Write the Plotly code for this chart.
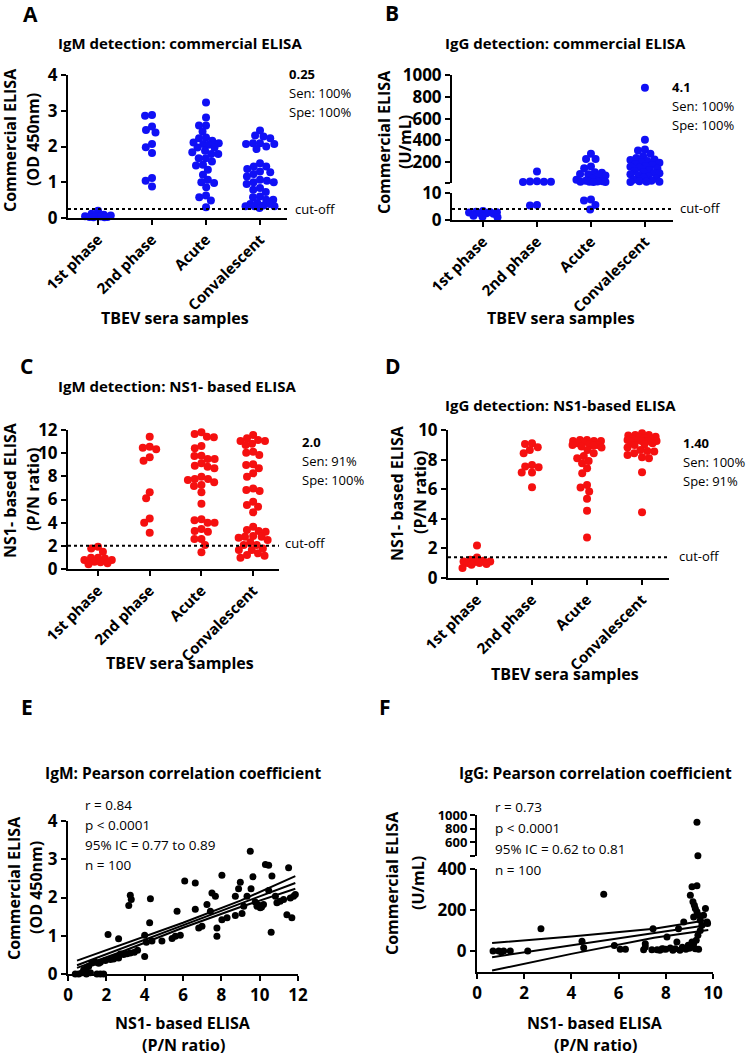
import math
import plotly.graph_objects as go

W, H = 750, 1057
FONT = "Open Sans"

categories = ["1st phase", "2nd phase", "Acute", "Convalescent"]

# ---- Panel A: IgM commercial ELISA (OD 450nm)
igm_com_first = [0.2, 0.12, 0.09, 0.07, 0.05, 0.05, 0.04, 0.03, 0.03, 0.02, 0.02]
igm_com_second = [2.88, 2.86, 2.56, 2.46, 2.39, 2.07, 1.98, 1.82, 1.12, 1.04, 0.88]
igm_com_acute = [3.23, 2.81, 2.59, 2.59, 2.42, 2.25, 2.23, 2.16, 2.11, 2.09, 2.07, 2.05, 1.97,
                 1.97, 1.88, 1.84, 1.79, 1.79, 1.67, 1.67, 1.58, 1.49, 1.47, 1.35, 1.21, 1.07,
                 1.0, 0.98, 0.86, 0.63, 0.58, 0.49, 0.30]
igm_com_conv = [2.45, 2.31, 2.28, 2.23, 2.09, 2.09, 2.07, 2.07, 2.0, 1.93, 1.53, 1.44, 1.44,
                1.37, 1.30, 1.28, 1.23, 1.16, 1.07, 1.04, 1.0, 1.0, 0.95, 0.84, 0.79, 0.73,
                0.60, 0.58, 0.51, 0.51, 0.42, 0.39, 0.39, 0.35, 0.33, 0.33, 0.33, 0.28]
igm_com_cutoff = 0.25

# ---- Panel B: IgG commercial ELISA (U/mL)
igg_com_first = [3.3, 3.1, 3.0, 2.9, 2.8, 2.6, 2.5, 2.3, 1.6, 1.2, 1.0]
igg_com_second = [115, 26, 24, 22, 21, 20, 5.6, 5.4]
igg_com_acute = [277, 231, 229, 161, 145, 108, 105, 93, 90, 78, 76, 50, 40, 30, 26, 24, 22,
                 21, 20, 20, 7.6, 7.25, 5.6, 3.9]
igg_com_conv = [883, 407, 317, 308, 277, 255, 240, 225, 220, 212, 200, 195, 185, 175, 165,
                160, 150, 140, 130, 120, 110, 102, 100, 90, 80, 70, 60, 50, 40, 30, 25, 22,
                21, 20]
igg_com_cutoff = 4.1

# ---- Panel C: IgM NS1-based ELISA (P/N ratio)
igm_ns1_first = [1.93, 1.78, 1.5, 0.98, 0.98, 0.9, 0.78, 0.78, 0.63, 0.58, 0.49, 0.4]
igm_ns1_second = [11.42, 10.56, 10.47, 10.33, 9.64, 9.35, 6.62, 6.1, 4.37, 4.0, 3.14]
igm_ns1_acute = [11.8, 11.65, 11.42, 11.37, 10.62, 10.42, 9.78, 9.76, 9.5, 9.5, 9.12, 8.92,
                 8.83, 8.69, 7.97, 7.77, 7.77, 7.68, 7.48, 7.25, 7.17, 6.62, 5.64, 4.29, 4.2,
                 4.0, 4.0, 3.45, 3.28, 3.22, 2.59, 2.59, 2.07, 1.44]
igm_ns1_conv = [11.57, 11.28, 11.14, 11.05, 11.05, 10.82, 10.7, 10.13, 10.04, 9.84, 9.04, 8.98,
                8.69, 8.26, 7.97, 6.96, 6.82, 6.73, 5.81, 5.53, 5.38, 4.89, 3.65, 3.37, 3.28,
                3.22, 2.85, 2.79, 2.79, 2.7, 2.5, 2.3, 2.07, 2.07, 1.78, 1.64, 1.64, 1.35, 1.2,
                1.15, 0.98]
igm_ns1_cutoff = 2.0

# ---- Panel D: IgG NS1-based ELISA (P/N ratio)
igg_ns1_first = [2.2, 1.38, 1.24, 1.17, 1.12, 1.12, 1.08, 1.01, 1.01, 0.94, 0.9, 0.67]
igg_ns1_second = [9.1, 9.06, 8.83, 8.65, 8.43, 7.64, 7.53, 7.48, 7.12, 7.12, 6.13]
igg_ns1_acute = [9.33, 9.33, 9.26, 9.26, 9.26, 9.17, 9.1, 9.05, 8.99, 8.99, 8.94, 8.88, 8.81,
                 8.65, 8.43, 8.25, 8.09, 7.91, 7.75, 7.42, 7.08, 6.29, 6.11, 5.84, 5.35, 4.54,
                 2.74]
igg_ns1_conv = [9.78, 9.66, 9.66, 9.62, 9.55, 9.48, 9.44, 9.39, 9.36, 9.33, 9.3, 9.26, 9.26,
                9.26, 9.2, 9.1, 9.03, 8.99, 8.81, 8.65, 8.58, 8.54, 8.43, 8.31, 8.16, 8.09,
                7.15, 4.45]
igg_ns1_cutoff = 1.4

# ---- Panel E: IgM correlation
igm_corr_ns1 = [0.38, 0.56, 0.73, 0.96, 1.17, 1.51, 1.69, 1.86, 0.82, 0.96, 1.08, 1.25, 1.43,
                1.69, 1.95, 2.21, 2.38, 2.64, 2.73, 2.9, 3.08, 3.25, 3.46, 3.63, 2.09, 2.64,
                3.17, 3.25, 3.3, 4.0, 4.0, 4.09, 4.26, 4.3, 4.38, 4.9, 5.43, 5.6, 5.69, 5.86,
                6.09, 6.64, 6.64, 6.82, 6.99, 7.25, 7.43, 7.51, 7.69, 7.77, 7.77, 8.03, 8.03,
                8.3, 8.73, 8.73, 8.9, 8.99, 9.08, 9.17, 9.34, 9.51, 9.55, 9.65, 9.77, 9.86,
                10.03, 10.2, 10.3, 10.47, 10.47, 10.64, 10.6, 10.82, 10.9, 11.07, 11.25, 11.42,
                11.51, 11.6, 11.68, 11.77, 11.86, 9.95, 10.1, 1.6, 2.5]
igm_corr_com = [0.0, 0.0, 0.03, 0.0, 0.03, 0.0, 0.0, 0.0, 0.11, 0.16, 0.2, 0.29, 0.31, 0.31,
                0.35, 0.38, 0.39, 0.42, 0.52, 0.51, 0.53, 0.55, 0.57, 0.62, 1.03, 0.92, 1.79,
                2.06, 1.95, 0.46, 1.01, 0.83, 1.34, 1.97, 0.86, 0.86, 0.93, 0.99, 1.64, 1.01,
                2.43, 2.38, 1.69, 1.2, 1.25, 1.82, 1.64, 2.12, 2.03, 1.2, 0.99, 2.58, 1.42,
                1.47, 1.53, 2.03, 2.23, 2.4, 1.58, 1.77, 2.03, 3.21, 2.23, 2.54, 1.88, 1.77,
                1.73, 1.82, 2.86, 2.84, 2.18, 2.56, 1.09, 2.03, 1.86, 1.9, 1.95, 1.55, 2.78,
                1.99, 1.47, 2.03, 2.08, 1.8, 1.75, 0.28, 0.44]
igm_fit_x = [0.47, 3.0, 6.0, 9.0, 11.86]
igm_fit_mid = [0.23, 0.71, 1.27, 1.84, 2.38]
igm_fit_up = [0.35, 0.80, 1.34, 1.92, 2.56]
igm_fit_lo = [0.16, 0.62, 1.21, 1.75, 2.23]

# ---- Panel F: IgG correlation
igg_corr_ns1 = [9.32, 9.36, 5.37, 2.71, 0.68, 0.92, 1.03, 1.13, 1.41, 2.15, 4.45, 4.52, 5.82,
                6.07, 6.29, 7.13, 7.13, 7.46, 7.06, 7.41, 7.63, 7.84, 8.05, 8.19, 8.4, 8.47,
                8.54, 8.76, 9.11, 9.32, 9.04, 9.15, 9.21, 9.25, 9.32, 9.39, 9.18, 9.46, 9.6,
                9.68, 9.75, 9.77, 9.53, 9.46, 9.36, 9.29, 9.18, 9.04, 9.25, 9.39, 9.11, 8.6,
                8.7, 8.85, 8.95, 9.0, 8.3, 8.0, 7.75, 7.9]
igg_corr_com = [893, 405, 278, 110, 2, 2, -3, 2, 2, 2, 49, 18, 29, 10, 10, 37, 21, 110, 8, 8,
                8, 13, 70, 16, 13, 46, 110, 143, 314, 319, 273, 241, 224, 208, 192, 176, 167,
                151, 176, 208, 143, 135, 127, 102, 78, 54, 37, 21, 13, 10, 46, 5, 20, 10, 30,
                15, 5, 10, 5, 12]
igg_fit_x = [0.64, 4.0, 7.5, 9.8]
igg_fit_mid = [-28, 29, 88, 128]
igg_fit_up = [41, 72, 110, 152]
igg_fit_lo = [-93, -12, 66, 104]


def X(px):
    return px / W


def Y(py):
    return 1 - py / H


BLUE = "#1010F5"
RED = "#F51010"

fig = go.Figure()
annotations = []
shapes = []


def ann(text, px, py, size=14, xanchor="left", yanchor="middle", angle=0, bold=False):
    if bold:
        text = "<b>" + text + "</b>"
    annotations.append(dict(text=text, x=X(px), y=Y(py), xref="paper", yref="paper",
                            xanchor=xanchor, yanchor=yanchor, showarrow=False,
                            textangle=angle, font=dict(family=FONT, size=size, color="black")))


def swarm(ypx_list, diam, maxhalf):
    order = sorted(range(len(ypx_list)), key=lambda i: ypx_list[i])
    placed = {}
    pts = []
    for i in order:
        y = ypx_list[i]
        blocked = []
        for (xj, yj) in pts:
            dy = abs(y - yj)
            if dy < diam:
                dx = math.sqrt(diam * diam - dy * dy)
                blocked.append((xj - dx, xj + dx))
        cands = [0.0] + [b[0] for b in blocked] + [b[1] for b in blocked]
        cands = [c for c in cands if abs(c) <= maxhalf + 1e-6]
        cands.sort(key=lambda c: (abs(c), c))
        xx = None
        for c in cands:
            if all(not (lo + 1e-6 < c < hi - 1e-6) for lo, hi in blocked):
                xx = c
                break
        if xx is None:
            best, bestd = 0.0, -1
            steps = int(maxhalf * 2) + 1
            for k in range(steps):
                c = -maxhalf + k * (2 * maxhalf / (steps - 1))
                dmin = min(math.hypot(c - xj, y - yj) for xj, yj in pts)
                if dmin > bestd + 1e-6:
                    best, bestd = c, dmin
            xx = best
        pts.append((xx, y))
        placed[i] = xx
    return [placed[i] for i in range(len(ypx_list))]


axis_common = dict(showgrid=False, zeroline=False, showline=True, linecolor="black",
                   linewidth=2, ticks="outside", ticklen=5, tickwidth=2, tickcolor="black",
                   automargin=False)


def b(s):
    return "<b>" + str(s) + "</b>" if str(s) else ""


def cat_axis(dom_px, rng):
    d = dict(axis_common)
    d.update(domain=[X(dom_px[0]), X(dom_px[1])], range=rng, tickvals=[0, 1, 2, 3],
             ticktext=[b(c) for c in categories], tickangle=-45,
             tickfont=dict(family=FONT, size=15, color="black"))
    return d


def lin_axis(dom_px, rng, tickvals, ticktext=None, anchor=None, size=17):
    d = dict(axis_common)
    if ticktext is None:
        ticktext = [str(v) for v in tickvals]
    d.update(domain=[Y(dom_px[0]), Y(dom_px[1])], range=rng, tickvals=tickvals,
             ticktext=[b(t) for t in ticktext], tickfont=dict(family=FONT, size=size, color="black"))
    if anchor:
        d["anchor"] = anchor
    return d


def xlin_axis(dom_px, rng, tickvals, anchor, size=17):
    d = dict(axis_common)
    d.update(domain=[X(dom_px[0]), X(dom_px[1])], range=rng, tickvals=tickvals,
             ticktext=[b(t) for t in tickvals], anchor=anchor,
             tickfont=dict(family=FONT, size=size, color="black"))
    return d


def swarm_panel(groups, xname, x_dom, x_rng, to_px, seg_of, color, diam=7.0, maxhalf=14.5):
    pxcat = (x_dom[1] - x_dom[0]) / (x_rng[1] - x_rng[0])
    for gi, vals in enumerate(groups):
        ypx = [to_px(v) for v in vals]
        offs = swarm(ypx, diam, maxhalf)
        segs = {}
        for v, o in zip(vals, offs):
            segs.setdefault(seg_of(v), ([], []))
            segs[seg_of(v)][0].append(gi + o / pxcat)
            segs[seg_of(v)][1].append(v)
        for ya, (xs, ys) in segs.items():
            fig.add_trace(go.Scatter(x=xs, y=ys, mode="markers", xaxis=xname, yaxis=ya,
                                     cliponaxis=False, showlegend=False,
                                     marker=dict(size=8, color=color, line=dict(width=0))))


layout = dict(width=W, height=H, margin=dict(l=0, r=0, t=0, b=0, pad=0), plot_bgcolor="white",
              paper_bgcolor="white", showlegend=False, autosize=False)

# ---------------- Panel A
A_xd, A_xr = (68, 287), [-0.556, 3.5]
layout["xaxis"] = cat_axis(A_xd, A_xr) | dict(anchor="y")
layout["yaxis"] = lin_axis((218, 75), [0, 4], [0, 1, 2, 3, 4], anchor="x")
swarm_panel([igm_com_first, igm_com_second, igm_com_acute, igm_com_conv], "x", A_xd, A_xr,
            lambda v: 218 - v * 143 / 4, lambda v: "y", BLUE)
shapes.append(dict(type="line", xref="x domain", yref="y", x0=0, x1=1, y0=igm_com_cutoff,
                   y1=igm_com_cutoff, line=dict(color="black", width=2, dash="dot")))

# ---------------- Panel B (broken axis)
B_xd, B_xr = (452, 673), [-0.574, 3.52]
layout["xaxis2"] = cat_axis(B_xd, B_xr) | dict(anchor="y2")
layout["yaxis2"] = lin_axis((220, 193), [0, 10], [0, 10], anchor="x2")
layout["yaxis3"] = lin_axis((183, 75), [10, 1000], [10, 200, 400, 600, 800, 1000],
                            ["", "200", "400", "600", "800", "1000"], anchor="x2")


def b_px(v):
    return 220 - v * 2.7 if v < 10 else 183 - (v - 10) * 108 / 990


swarm_panel([igg_com_first, igg_com_second, igg_com_acute, igg_com_conv], "x2", B_xd, B_xr,
            b_px, lambda v: "y2" if v < 10 else "y3", BLUE)
shapes.append(dict(type="line", xref="x2 domain", yref="y2", x0=0, x1=1, y0=igg_com_cutoff,
                   y1=igg_com_cutoff, line=dict(color="black", width=2, dash="dot")))

# ---------------- Panel C
C_xd, C_xr = (68, 279), [-0.58, 3.5]
layout["xaxis3"] = cat_axis(C_xd, C_xr) | dict(anchor="y4")
layout["yaxis4"] = lin_axis((569, 430), [0, 12], [0, 2, 4, 6, 8, 10, 12], anchor="x3")
swarm_panel([igm_ns1_first, igm_ns1_second, igm_ns1_acute, igm_ns1_conv], "x3", C_xd, C_xr,
            lambda v: 569 - v * 139 / 12, lambda v: "y4", RED)
shapes.append(dict(type="line", xref="x3 domain", yref="y4", x0=0, x1=1, y0=igm_ns1_cutoff,
                   y1=igm_ns1_cutoff, line=dict(color="black", width=2, dash="dot")))

# ---------------- Panel D
D_xd, D_xr = (448, 669), [-0.527, 3.49]
layout["xaxis4"] = cat_axis(D_xd, D_xr) | dict(anchor="y5")
layout["yaxis5"] = lin_axis((578, 430), [0, 10], [0, 2, 4, 6, 8, 10], anchor="x4")
swarm_panel([igg_ns1_first, igg_ns1_second, igg_ns1_acute, igg_ns1_conv], "x4", D_xd, D_xr,
            lambda v: 578 - v * 14.8, lambda v: "y5", RED)
shapes.append(dict(type="line", xref="x4 domain", yref="y5", x0=0, x1=1, y0=igg_ns1_cutoff,
                   y1=igg_ns1_cutoff, line=dict(color="black", width=2, dash="dot")))

# ---------------- Panel E
layout["xaxis5"] = xlin_axis((68, 298), [0, 12], [0, 2, 4, 6, 8, 10, 12], "y6")
layout["yaxis6"] = lin_axis((974, 821), [0, 4], [0, 1, 2, 3, 4], anchor="x5")
fig.add_trace(go.Scatter(x=igm_corr_ns1, y=igm_corr_com, mode="markers", xaxis="x5", yaxis="y6",
                         cliponaxis=False, marker=dict(size=7, color="black")))
for ys in (igm_fit_up, igm_fit_mid, igm_fit_lo):
    fig.add_trace(go.Scatter(x=igm_fit_x, y=ys, mode="lines", xaxis="x5", yaxis="y6",
                             line=dict(color="black", width=2)))

# ---------------- Panel F (broken axis)
layout["xaxis6"] = xlin_axis((477, 713), [0, 10], [0, 2, 4, 6, 8, 10], "y7")
layout["yaxis7"] = lin_axis((972, 869), [-100, 400], [0, 200, 400], anchor="x6")
layout["yaxis8"] = lin_axis((856, 815), [400, 1000], [400, 600, 800, 1000],
                            ["", "600", "800", "1000"], anchor="x6", size=13)
fx_lo = [x for x, y in zip(igg_corr_ns1, igg_corr_com) if y < 400]
fy_lo = [y for y in igg_corr_com if y < 400]
fx_hi = [x for x, y in zip(igg_corr_ns1, igg_corr_com) if y >= 400]
fy_hi = [y for y in igg_corr_com if y >= 400]
fig.add_trace(go.Scatter(x=fx_lo, y=fy_lo, mode="markers", xaxis="x6", yaxis="y7",
                         cliponaxis=False, marker=dict(size=7, color="black")))
fig.add_trace(go.Scatter(x=fx_hi, y=fy_hi, mode="markers", xaxis="x6", yaxis="y8",
                         cliponaxis=False, marker=dict(size=7, color="black")))
for ys in (igg_fit_up, igg_fit_mid, igg_fit_lo):
    fig.add_trace(go.Scatter(x=igg_fit_x, y=ys, mode="lines", xaxis="x6", yaxis="y7",
                             line=dict(color="black", width=2)))

# ---------------- Text
for letter, px, py in [("A", 30, 14), ("B", 392, 13), ("C", 27, 366), ("D", 393, 366),
                       ("E", 27, 707), ("F", 385, 707)]:
    ann(letter, px, py, size=21, xanchor="center", bold=True)

for t, px, py, sz in [("IgM detection: commercial ELISA", 180, 43, 15),
                      ("IgG detection: commercial ELISA", 565, 43, 15),
                      ("IgM detection: NS1- based ELISA", 177, 386, 15),
                      ("IgG detection: NS1-based ELISA", 560, 405, 15),
                      ("IgM: Pearson correlation coefficient", 183, 773, 15.5),
                      ("IgG: Pearson correlation coefficient", 595, 773, 15.5)]:
    ann(t, px, py, size=sz, xanchor="center", bold=True)

# y titles
for l1, l2, x1, x2, yc in [("Commercial ELISA", "(OD 450nm)", 10, 33, 140),
                           ("Commercial ELISA", "(U/mL)", 384, 405, 142),
                           ("NS1- based ELISA", "(P/N ratio)", 10, 33, 490),
                           ("NS1- based ELISA", "(P/N ratio)", 397, 420, 493),
                           ("Commercial ELISA", "(OD 450nm)", 14, 36, 888),
                           ("Commercial ELISA", "(U/mL)", 392, 418, 883)]:
    ann(l1, x1, yc, size=16, xanchor="center", angle=-90, bold=True)
    ann(l2, x2, yc, size=16, xanchor="center", angle=-90, bold=True)

# x titles
for px, py in [(175, 318), (561, 318), (180, 663), (565, 674)]:
    ann("TBEV sera samples", px, py, size=16, xanchor="center", bold=True)
for px in (183, 595):
    ann("NS1- based ELISA", px, 1023, size=16, xanchor="center", bold=True)
    ann("(P/N ratio)", px, 1045, size=16, xanchor="center", bold=True)

# cut-off labels and thresholds
for px, py in [(293, 209), (678, 208), (283, 543), (677, 556)]:
    ann("cut-off", px, py, size=13)
for thr, sen, spe, px, py in [("0.25", "Sen: 100%", "Spe: 100%", 287, 74),
                              ("4.1", "Sen: 100%", "Spe: 100%", 670, 87),
                              ("2.0", "Sen: 91%", "Spe: 100%", 300, 442),
                              ("1.40", "Sen: 100%", "Spe: 91%", 681, 443)]:
    ann(thr, px, py, size=13, bold=True)
    ann(sen, px, py + 19, size=13)
    ann(spe, px, py + 38, size=13)

for lines, px, ys in [(["r = 0.84", "p < 0.0001", "95% IC = 0.77 to 0.89", "n = 100"], 83,
                       [805, 825, 845, 865]),
                      (["r = 0.73", "p < 0.0001", "95% IC = 0.62 to 0.81", "n = 100"], 493,
                       [807, 828, 849, 870])]:
    for t, py in zip(lines, ys):
        ann(t, px, py, size=13.5)

layout["annotations"] = annotations
layout["shapes"] = shapes
fig.update_layout(**layout)
fig.write_html(
    "out.html",
    config={"displayModeBar": False, "responsive": False},
    post_script="document.body.style.margin='0px';document.body.style.padding='0px';"
                "document.documentElement.style.overflow='hidden';",
)
